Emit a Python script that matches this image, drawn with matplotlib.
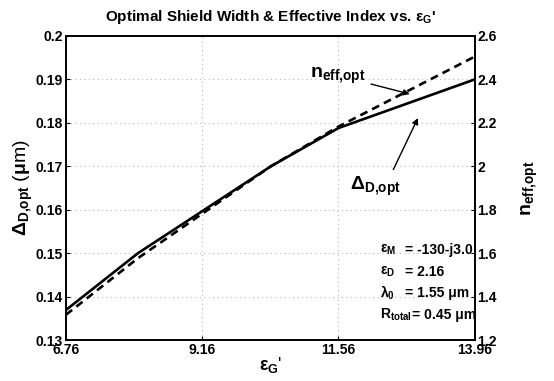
import numpy as np
import matplotlib
matplotlib.use("Agg")
import matplotlib.pyplot as plt

plt.rcParams['font.family'] = ['Liberation Sans', 'DejaVu Sans']
plt.rcParams['font.weight'] = 'bold'
plt.rcParams['mathtext.fontset'] = 'custom'
plt.rcParams['mathtext.rm'] = 'Liberation Sans'
plt.rcParams['mathtext.it'] = 'Liberation Sans'   # keep greek upright, like the original
plt.rcParams['mathtext.bf'] = 'Liberation Sans:bold'

# data
eps_g = [6.76, 8.03, 10.37, 11.56, 13.96]
delta_opt = [0.1369, 0.1500, 0.1700, 0.1788, 0.1900]   # um, left axis
n_eff_opt = [1.316, 1.577, 2.000, 2.183, 2.505]        # right axis

x_ticks = [6.76, 9.16, 11.56, 13.96]
left_ticks = [0.13, 0.14, 0.15, 0.16, 0.17, 0.18, 0.19, 0.2]
right_ticks = [1.2, 1.4, 1.6, 1.8, 2.0, 2.2, 2.4, 2.6]

fig = plt.figure(figsize=(5.54, 3.81), dpi=100)
ax = fig.add_axes([0.119, 0.1076, 0.738, 0.798])
ax2 = ax.twinx()

ax.plot(eps_g, delta_opt, color='black', lw=1.9, ls='-')
ax2.plot(eps_g, n_eff_opt, color='black', lw=1.9, ls=(0, (3, 2)))

ax.set_xlim(6.76, 13.96)
ax.set_ylim(0.13, 0.2)
ax2.set_ylim(1.2, 2.6)

ax.set_xticks(x_ticks)
ax.set_xticklabels([f"{v:.2f}" for v in x_ticks])
ax.set_yticks(left_ticks)
ax.set_yticklabels([f"{v:g}" for v in left_ticks])
ax2.set_yticks(right_ticks)
ax2.set_yticklabels([f"{v:g}" for v in right_ticks])

for a in (ax, ax2):
    a.tick_params(direction='in', length=3, width=0.8, labelsize=10, pad=2)
    for lab in a.get_xticklabels() + a.get_yticklabels():
        lab.set_fontweight('bold')
    for s in a.spines.values():
        s.set_linewidth(1.2)

ax.grid(True, color='#b8b8b8', ls=(0, (1, 3)), lw=0.8)

ax.set_title(r"Optimal Shield Width & Effective Index vs. $\varepsilon_{\mathbf{G}}$'",
             fontsize=11, fontweight='bold', pad=11)
ax.set_xlabel(r"$\varepsilon_{\mathbf{G}}$'", fontsize=13, labelpad=-1)
ax.set_ylabel(r"$\Delta_{\mathbf{D{,}opt}}$ ($\mu$m)", fontsize=14)
ax.yaxis.set_label_coords(-0.075, 0.5)
ax2.set_ylabel(r"$\mathbf{n}_{\mathbf{eff{,}opt}}$", fontsize=14, rotation=90)
ax2.yaxis.set_label_coords(1.11, 0.5)

# curve labels with arrows
ax.annotate(r"$\mathbf{n}_{\mathbf{eff{,}opt}}$", xy=(0.841, 0.809), xytext=(0.733, 0.87),
            xycoords='axes fraction', textcoords='axes fraction',
            ha='right', va='center', fontsize=14,
            arrowprops=dict(arrowstyle='-|>', color='black', lw=1, mutation_scale=9,
                            shrinkA=2, shrinkB=0))
ax.annotate(r"$\Delta_{\mathbf{D{,}opt}}$", xy=(0.861, 0.730), xytext=(0.695, 0.505),
            xycoords='axes fraction', textcoords='axes fraction',
            ha='left', va='center', fontsize=14,
            arrowprops=dict(arrowstyle='-|>', color='black', lw=1, mutation_scale=9,
                            relpos=(0.8, 1.0), shrinkA=2, shrinkB=0))

# parameter block
params = [
    (r"$\varepsilon_{\mathbf{M}}$", "= -130-j3.0", 0.83),
    (r"$\varepsilon_{\mathbf{D}}$", "= 2.16", 0.83),
    (r"$\lambda_{\mathbf{0}}$", "= 1.55 \u03bcm", 0.83),
    (r"$\mathbf{R}_{\mathbf{total}}$", "= 0.45 \u03bcm", 0.846),
]
ys = [0.296, 0.224, 0.155, 0.082]
for (sym, val, xv), yv in zip(params, ys):
    ax.text(0.768, yv, sym, transform=ax.transAxes, fontsize=10, ha='left', va='center')
    ax.text(xv, yv, val, transform=ax.transAxes, fontsize=10, ha='left', va='center')

fig.savefig("out.png", dpi=100)
